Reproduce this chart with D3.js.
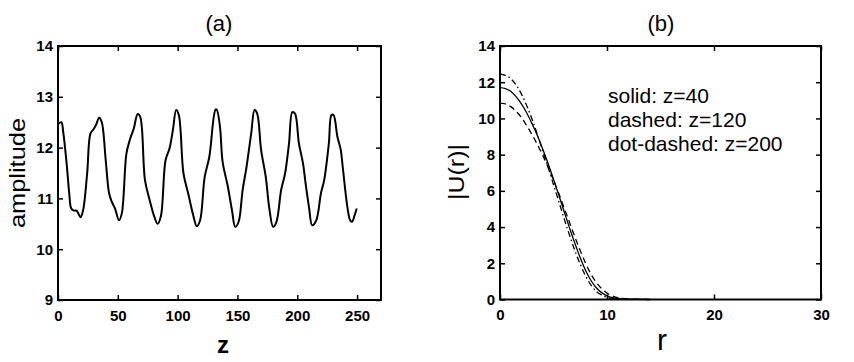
<!DOCTYPE html>
<html>
<head>
<meta charset="utf-8">
<script src="https://cdn.jsdelivr.net/npm/d3@7"></script>
<style>
  html, body { margin: 0; padding: 0; background: #fff; }
  svg { display: block; font-family: Arial, "Liberation Sans", Helvetica, sans-serif; }
</style>
</head>
<body>
<svg id="chart" width="854" height="362"></svg>
<script>
// panel (a): amplitude along z
const zVals = [0, 2.8, 4.4, 7.2, 9.4, 11.1, 13.3, 15.5, 18.9, 21, 24.4, 27.2, 30, 32.2, 34.4, 36.6,
  39.9, 42.7, 45, 47.7, 51, 53.3, 57.2, 60, 63.3, 66.6, 68.8, 72.7, 76.6, 80.5, 83.2, 86,
  89.9, 93.2, 96, 98.8, 101, 104.9, 108.8, 112.7, 116, 118.8, 122.6, 126.5, 131.5, 132.6, 135.4,
  137.6, 142, 145.4, 148.2, 151, 154.3, 157.6, 161.5, 164.3, 166.5, 169.8, 173.7, 176.5, 179.8,
  182.6, 186.5, 189.8, 193.1, 195.9, 198.1, 201.4, 204.8, 207, 209.8, 212.5, 215.9, 219.8, 222.5,
  226.4, 228.6, 230.3, 233.6, 236.4, 238, 241.9, 244.2, 245.8, 248, 249.7];
const ampVals = [12.46, 12.5, 12.3, 11.69, 11.1, 10.8, 10.76, 10.76, 10.63, 10.77, 11.5, 12.28, 12.37, 12.47, 12.59, 12.5,
  11.75, 11.1, 10.93, 10.8, 10.57, 10.7, 11.88, 12.15, 12.37, 12.66, 12.6, 11.36, 10.97, 10.64, 10.5, 10.65,
  11.75, 11.98, 12.34, 12.74, 12.64, 11.49, 11.1, 10.7, 10.45, 10.57, 11.42, 11.82, 12.74, 12.75, 12.41,
  11.72, 11.23, 10.77, 10.44, 10.54, 11.16, 11.62, 12.28, 12.74, 12.67, 11.95, 11.42, 10.83, 10.44,
  10.54, 11.16, 11.49, 12.08, 12.7, 12.67, 12.08, 11.69, 11.29, 10.83, 10.47, 10.57, 11.1, 11.36,
  12.08, 12.64, 12.64, 12.21, 11.95, 11.62, 10.83, 10.57, 10.54, 10.67, 10.8];

// panel (b): |U(r)| profiles
const rVals = [0, 0.5, 1, 1.5, 2, 2.5, 3, 3.5, 4, 4.5, 5, 5.5, 6, 6.5, 7, 7.5, 8, 8.5, 9, 9.5, 10, 10.5, 11, 12, 13, 14];
const uSolid = [11.7, 11.65, 11.5, 11.2, 10.8, 10.3, 9.7, 9.05, 8.3, 7.5, 6.65, 5.75, 4.85, 3.95, 3.1, 2.3, 1.6, 1.05, 0.65, 0.38, 0.2, 0.1, 0.05, 0.015, 0.005, 0];
const uDashed = [10.85, 10.8, 10.65, 10.4, 10.05, 9.6, 9.1, 8.55, 7.95, 7.3, 6.6, 5.85, 5.05, 4.25, 3.45, 2.7, 2.0, 1.4, 0.95, 0.6, 0.35, 0.2, 0.1, 0.03, 0.01, 0];
const uDotDash = [12.45, 12.38, 12.2, 11.85, 11.35, 10.7, 9.95, 9.1, 8.2, 7.3, 6.35, 5.4, 4.45, 3.55, 2.7, 1.95, 1.3, 0.8, 0.45, 0.25, 0.12, 0.06, 0.03, 0.01, 0.005, 0];
const legendLines = ["solid: z=40", "dashed: z=120", "dot-dashed: z=200"];

const xTicksA = [0, 50, 100, 150, 200, 250];
const yTicksA = [9, 10, 11, 12, 13, 14];
const xTicksB = [0, 10, 20, 30];
const yTicksB = [0, 2, 4, 6, 8, 10, 12, 14];

const FONT = 'Arial, "Liberation Sans", Helvetica, sans-serif';
const svg = d3.select("#chart");

// style d3's tick marks and labels like the matlab figure
function styleAxis(a) {
  a.select(".domain").remove();
  a.attr("font-family", FONT);
  a.selectAll(".tick line").attr("stroke", "#000").attr("stroke-width", 1.5);
  a.selectAll(".tick text").attr("fill", "#000")
    .attr("font-size", 15).attr("font-weight", "bold").attr("font-family", FONT);
}

function drawFrame(g, x, y, xTicks, yTicks) {
  const [x0, x1] = x.range();
  const [y0, y1] = y.range();
  const fmt = d3.format("d");
  g.append("g").attr("transform", `translate(0,${y0})`)
    .call(d3.axisBottom(x).tickValues(xTicks).tickFormat(fmt).tickSize(-5).tickSizeOuter(0).tickPadding(10))
    .call(styleAxis);
  g.append("g").attr("transform", `translate(0,${y1})`)
    .call(d3.axisTop(x).tickValues(xTicks).tickSize(-5).tickSizeOuter(0).tickFormat(""))
    .call(styleAxis);
  g.append("g").attr("transform", `translate(${x0},0)`)
    .call(d3.axisLeft(y).tickValues(yTicks).tickFormat(fmt).tickSize(-5).tickSizeOuter(0).tickPadding(5))
    .call(styleAxis);
  g.append("g").attr("transform", `translate(${x1},0)`)
    .call(d3.axisRight(y).tickValues(yTicks).tickSize(-5).tickSizeOuter(0).tickFormat(""))
    .call(styleAxis);
  g.append("rect")
    .attr("x", x0).attr("y", y1)
    .attr("width", x1 - x0).attr("height", y0 - y1)
    .attr("fill", "none").attr("stroke", "#000").attr("stroke-width", 2);
}

// ---- panel (a)
const xa = d3.scaleLinear().domain([0, 270]).range([58, 381]);
const ya = d3.scaleLinear().domain([9, 14]).range([300, 46]);
const ga = svg.append("g");

const lineA = d3.line()
  .x((d, i) => xa(zVals[i]))
  .y(d => ya(d))
  .curve(d3.curveCatmullRom.alpha(0.5));
ga.append("path").datum(ampVals)
  .attr("d", lineA)
  .attr("fill", "none").attr("stroke", "#000").attr("stroke-width", 2)
  .attr("stroke-linejoin", "round");

drawFrame(ga, xa, ya, xTicksA, yTicksA);

ga.append("text").attr("x", 219).attr("y", 31).attr("text-anchor", "middle")
  .attr("font-size", 22).text("(a)");
ga.append("text").attr("transform", "translate(25,173) rotate(-90)")
  .attr("text-anchor", "middle").attr("font-size", 22)
  .attr("textLength", 110).attr("lengthAdjust", "spacingAndGlyphs")
  .text("amplitude");
ga.append("text").attr("x", 223).attr("y", 353).attr("text-anchor", "middle")
  .attr("font-size", 24).attr("font-weight", "bold").text("z");

// ---- panel (b)
const xb = d3.scaleLinear().domain([0, 30]).range([500, 821]);
const yb = d3.scaleLinear().domain([0, 14]).range([299.5, 46]);
const gb = svg.append("g");

const lineB = d3.line()
  .x((d, i) => xb(rVals[i]))
  .y(d => yb(d))
  .curve(d3.curveMonotoneX);

const series = [
  { vals: uSolid, dash: null },
  { vals: uDashed, dash: "6,4" },
  { vals: uDotDash, dash: "6,3,1.5,3" }
];
gb.selectAll("path.curve").data(series).join("path")
  .attr("class", "curve")
  .attr("d", d => lineB(d.vals))
  .attr("fill", "none").attr("stroke", "#000").attr("stroke-width", 1.3)
  .attr("stroke-dasharray", d => d.dash);

drawFrame(gb, xb, yb, xTicksB, yTicksB);

gb.selectAll("text.legend").data(legendLines).join("text")
  .attr("class", "legend")
  .attr("x", 608).attr("y", (d, i) => 103 + i * 24)
  .attr("font-size", 21).text(d => d);

gb.append("text").attr("x", 661).attr("y", 31).attr("text-anchor", "middle")
  .attr("font-size", 22).text("(b)");
gb.append("text").attr("transform", "translate(464,172) rotate(-90)")
  .attr("text-anchor", "middle").attr("font-size", 22)
  .attr("textLength", 56).attr("lengthAdjust", "spacingAndGlyphs")
  .text("|U(r)|");
gb.append("text").attr("x", 662).attr("y", 350).attr("text-anchor", "middle")
  .attr("font-size", 30).text("r");
</script>
</body>
</html>
